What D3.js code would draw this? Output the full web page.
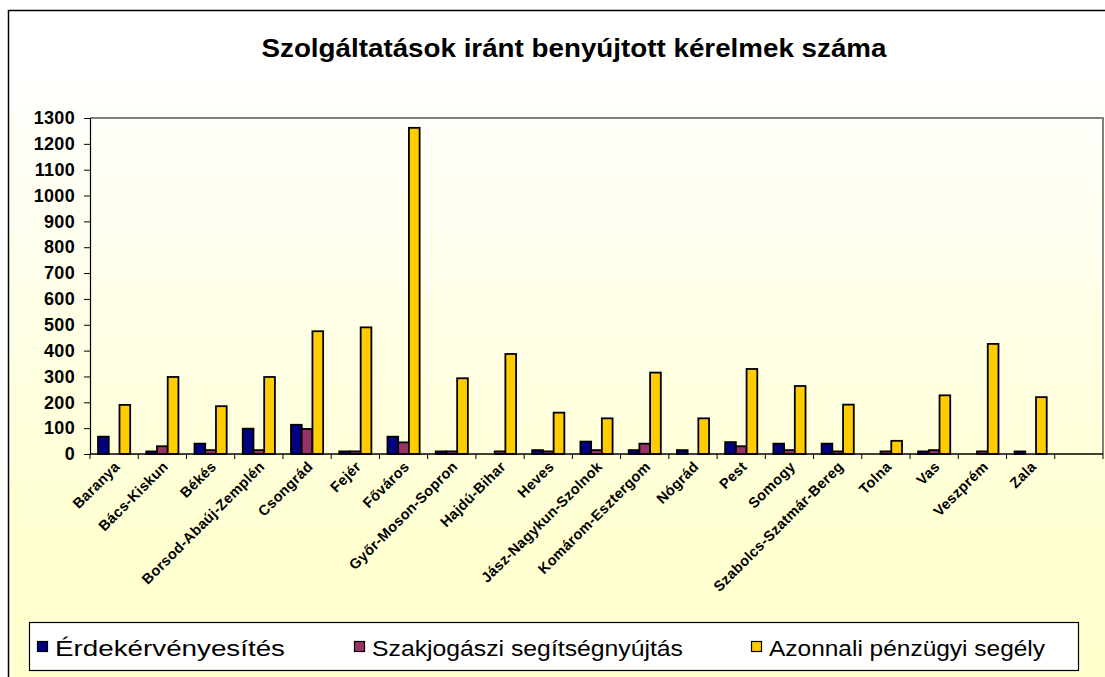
<!DOCTYPE html>
<html><head><meta charset="utf-8">
<script src="https://cdn.jsdelivr.net/npm/d3@7/dist/d3.min.js"></script>
<style>html,body{margin:0;padding:0;background:#fff;}svg{display:block;font-family:Arial,"Liberation Sans",sans-serif;}</style>
</head><body>
<svg id="c" width="1105" height="677"></svg>
<script>
const title = "Szolgáltatások iránt benyújtott kérelmek száma";
const categories = ["Baranya","Bács-Kiskun","Békés","Borsod-Abaúj-Zemplén","Csongrád","Fejér","Főváros","Győr-Moson-Sopron","Hajdú-Bihar","Heves","Jász-Nagykun-Szolnok","Komárom-Esztergom","Nógrád","Pest","Somogy","Szabolcs-Szatmár-Bereg","Tolna","Vas","Veszprém","Zala"];
const seriesNames = ["Érdekérvényesítés","Szakjogászi segítségnyújtás","Azonnali pénzügyi segély"];
const erdek = [67,10,40,98,113,10,67,10,0,15,48,15,15,46,40,40,0,10,0,10];
const szak = [0,30,15,15,97,10,45,10,10,10,15,40,0,30,15,10,10,15,10,0];
const azonnali = [190,298,185,298,475,490,1262,293,387,160,138,315,138,329,263,191,51,227,426,220];
const yTicks = [0,100,200,300,400,500,600,700,800,900,1000,1100,1200,1300];
const colors = ["#000080","#993366","#FFCC00"];

const svg = d3.select("#c");
const defs = svg.append("defs");
const grad = defs.append("linearGradient").attr("id","bg").attr("x1",0).attr("y1",0).attr("x2",0).attr("y2",1);
grad.append("stop").attr("offset","0%").attr("stop-color","#FFFFFF");
grad.append("stop").attr("offset","10%").attr("stop-color","#FFFFFD");
grad.append("stop").attr("offset","75%").attr("stop-color","#FFFFD2");
grad.append("stop").attr("offset","100%").attr("stop-color","#FFFFCC");

// chart frame
svg.append("rect").attr("x",8.5).attr("y",10.5).attr("width",1120).attr("height",700)
  .attr("fill","url(#bg)").attr("stroke","#000").attr("stroke-width",1.5);

// title
svg.append("text").attr("x",574).attr("y",57).attr("text-anchor","middle")
  .attr("font-size",25).attr("font-weight","bold").attr("textLength",625).attr("lengthAdjust","spacingAndGlyphs")
  .text(title);

const L = 90, R = 1103, T = 118, B = 454;
const slots = categories.length + 1;
const step = (R - L) / slots;
const x = d3.scaleBand().domain(categories).range([L, L + step*categories.length]).paddingInner(1/3).paddingOuter(1/6);
const xs = d3.scaleBand().domain([0,1,2]).range([0, x.bandwidth()]);
const y = d3.scaleLinear().domain([0,1300]).range([B, T]);

// plot area border (top/right gray)
svg.append("path").attr("d",`M${L},${T}H${R}V${B}`).attr("fill","none").attr("stroke","#808080").attr("stroke-width",2);

// bars
const series = [erdek, szak, azonnali];
series.forEach((vals, si) => {
  svg.append("g").selectAll("rect").data(categories.map((c,i)=>({c, v: vals[i]})).filter(d=>d.v>0))
    .join("rect")
    .attr("x", d => x(d.c) + xs(si))
    .attr("y", d => y(d.v))
    .attr("width", xs.bandwidth())
    .attr("height", d => B - y(d.v))
    .attr("fill", colors[si]).attr("stroke","#000").attr("stroke-width",1.8);
});

// y axis
const yAxis = d3.axisLeft(y).tickValues(yTicks).tickSize(6).tickPadding(9).tickFormat(d3.format("d"));
const gy = svg.append("g").attr("transform",`translate(${L},0)`).call(yAxis);
gy.select(".domain").attr("stroke","#000").attr("stroke-width",1.2);
gy.selectAll(".tick line").attr("stroke","#000");
gy.selectAll(".tick text").attr("font-size",18).attr("font-weight","bold").attr("fill","#000")
  .attr("font-family","Arial, 'Liberation Sans', sans-serif").attr("letter-spacing","0.3px");

// x axis line + ticks at category boundaries
svg.append("line").attr("x1",L).attr("x2",R).attr("y1",B).attr("y2",B).attr("stroke","#000").attr("stroke-width",1.5);
svg.append("g").selectAll("line").data(d3.range(slots+1)).join("line")
  .attr("x1",i=>L+i*step).attr("x2",i=>L+i*step).attr("y1",B).attr("y2",B+5).attr("stroke","#000");

// x labels
svg.append("g").selectAll("text").data(categories).join("text")
  .attr("transform", c => `translate(${x(c)+x.bandwidth()/2+3},${B+10}) rotate(-45)`)
  .attr("text-anchor","end").attr("font-size",14.5).attr("font-weight","bold").attr("letter-spacing","0.3px")
  .attr("dy","0.35em")
  .text(c => c);

// legend
const lg = svg.append("g");
lg.append("rect").attr("x",29.5).attr("y",622.5).attr("width",1049).attr("height",48).attr("fill","#fff").attr("stroke","#000").attr("stroke-width",1.2);
const legX = [37, 354, 751];
const legW = [230, 311, 276];
seriesNames.forEach((n,i) => {
  lg.append("rect").attr("x",legX[i]+0.5).attr("y",641.5).attr("width",10).attr("height",10).attr("fill",colors[i]).attr("stroke","#000").attr("stroke-width",1.2);
  lg.append("text").attr("x",legX[i]+18).attr("y",656).attr("font-size",22).attr("textLength",legW[i]).attr("lengthAdjust","spacingAndGlyphs").text(n);
});
</script>
</body></html>
